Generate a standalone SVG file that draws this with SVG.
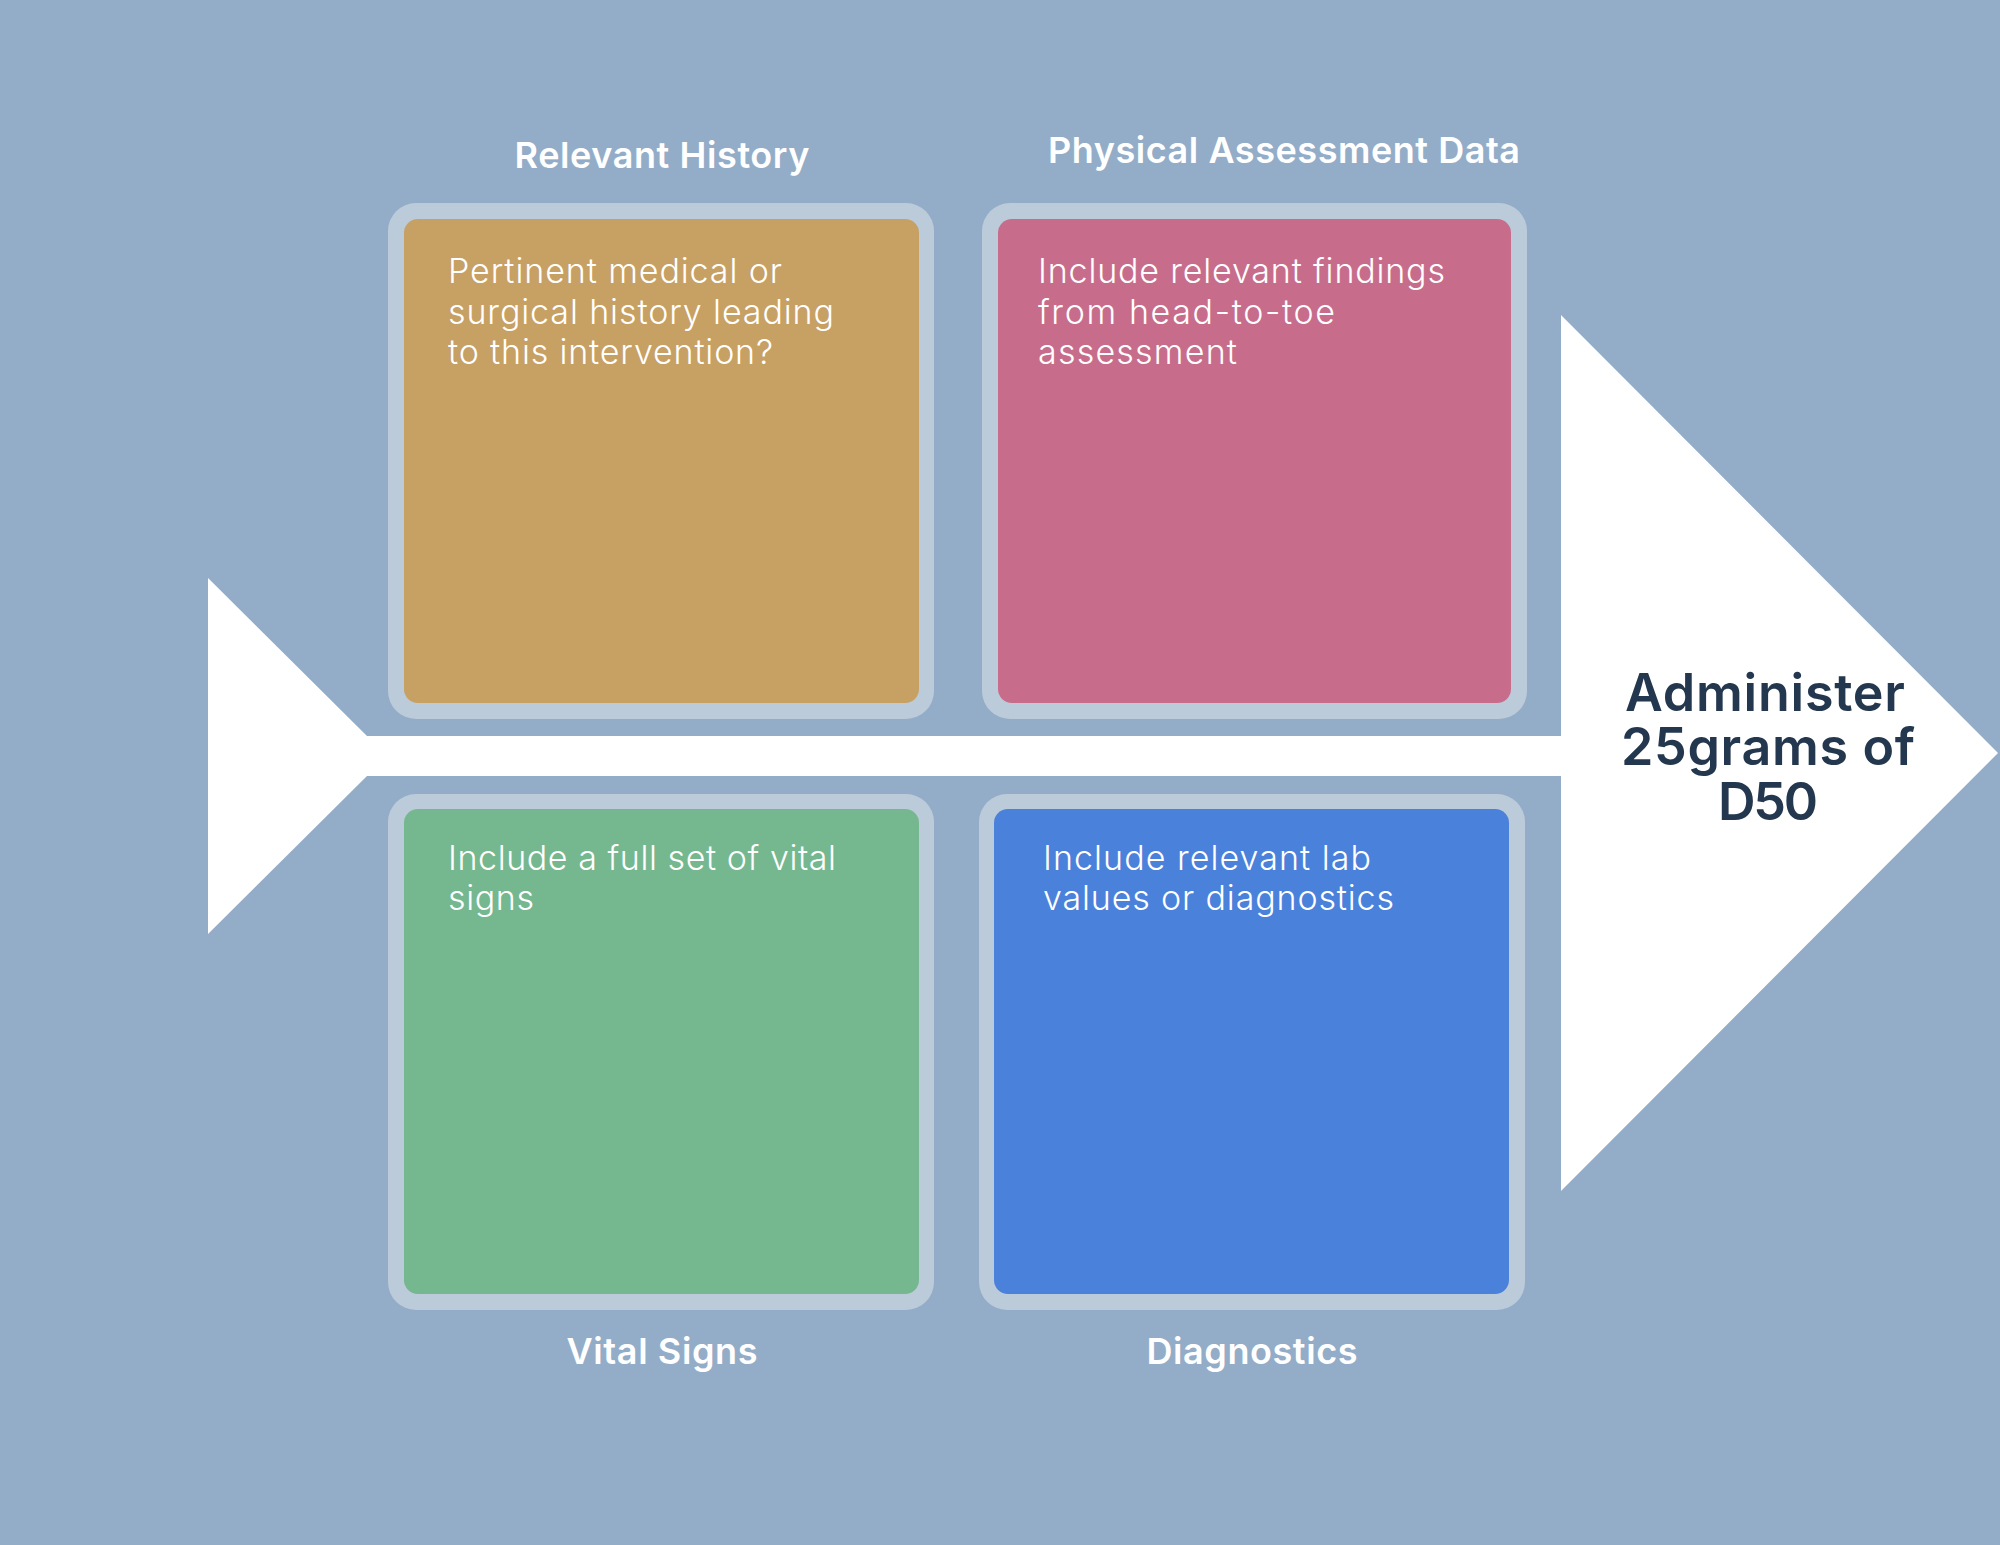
<svg xmlns="http://www.w3.org/2000/svg" width="2000" height="1545" viewBox="0 0 2000 1545">
<style>
.frame{fill:#bccbda}
.title{font-family:Inter,"Noto Sans",sans-serif;font-weight:600;font-size:36px;fill:#ffffff;text-anchor:middle}
.body{font-family:Inter,"Noto Sans",sans-serif;font-weight:300;font-size:34px;fill:#ffffff}
.main{font-family:Inter,"Noto Sans",sans-serif;font-weight:600;font-size:52px;fill:#23374f;text-anchor:middle}
</style>
<rect x="0" y="0" width="2000" height="1545" fill="#93adc8"/>
<g id="connectors">
<polygon points="208,578 367,736 1561,736 1561,315 1998,753 1561,1191 1561,776 367,776 208,934" fill="#ffffff"/>
</g>
<g id="relevant-history">
<rect class="frame" x="388" y="203" width="546" height="516" rx="28"/>
<rect x="404" y="219" width="515" height="484" rx="14" fill="#c7a064"/>
<text class="title" x="662" y="168" textLength="295">Relevant History</text>
<text class="body" x="448" y="283" textLength="334">Pertinent medical or</text>
<text class="body" x="448" y="324" textLength="386">surgical history leading</text>
<text class="body" x="448" y="364" textLength="325">to this intervention?</text>
</g>
<g id="physical-assessment">
<rect class="frame" x="982" y="203" width="545" height="516" rx="28"/>
<rect x="998" y="219" width="513" height="484" rx="14" fill="#c76d8b"/>
<text class="title" x="1284" y="163" textLength="472">Physical Assessment Data</text>
<text class="body" x="1038" y="283" textLength="407">Include relevant findings</text>
<text class="body" x="1038" y="324" textLength="297">from head-to-toe</text>
<text class="body" x="1038" y="364" textLength="199">assessment</text>
</g>
<g id="vital-signs">
<rect class="frame" x="388" y="794" width="546" height="516" rx="28"/>
<rect x="404" y="809" width="515" height="485" rx="14" fill="#75b78f"/>
<text class="body" x="448" y="870" textLength="388">Include a full set of vital</text>
<text class="body" x="448" y="910" textLength="86">signs</text>
<text class="title" x="662" y="1364" textLength="191">Vital Signs</text>
</g>
<g id="diagnostics">
<rect class="frame" x="979" y="794" width="546" height="516" rx="28"/>
<rect x="994" y="809" width="515" height="485" rx="14" fill="#4a81db"/>
<text class="body" x="1043" y="870" textLength="328">Include relevant lab</text>
<text class="body" x="1043" y="910" textLength="351">values or diagnostics</text>
<text class="title" x="1252" y="1364" textLength="211">Diagnostics</text>
</g>
<g id="outcome">
<text class="main" x="1765" y="711" textLength="280">Administer</text>
<text class="main" x="1768" y="765" textLength="294">25grams of</text>
<text class="main" x="1768" y="820" textLength="100">D50</text>
</g>
</svg>
